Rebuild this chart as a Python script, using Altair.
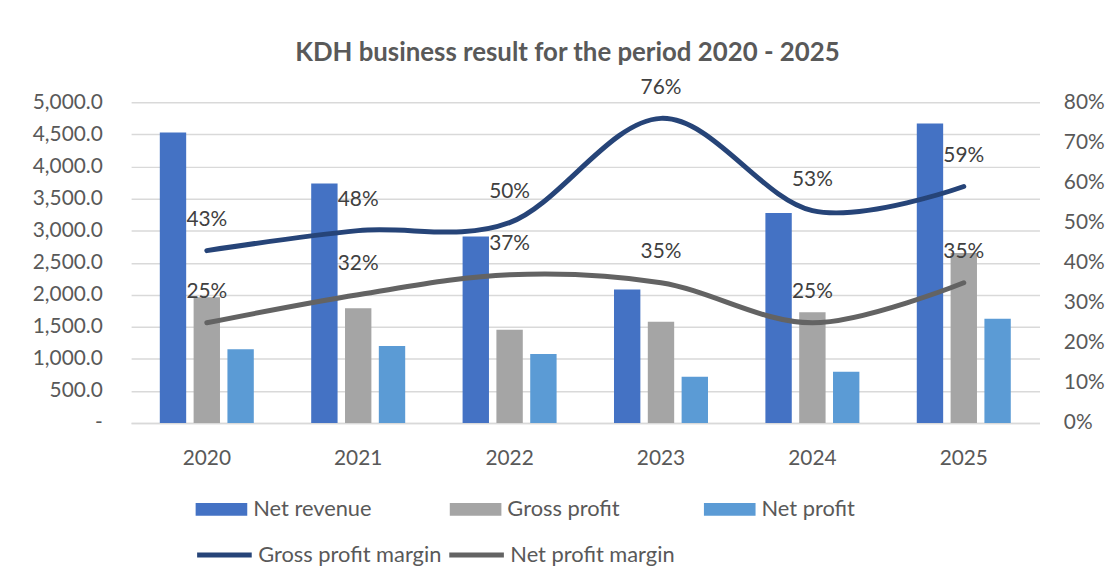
import altair as alt
import pandas as pd

years = ["2020", "2021", "2022", "2023", "2024", "2025"]
bar_series = ["Net revenue", "Gross profit", "Net profit"]
net_revenue = [4530, 3733, 2908, 2083, 3275, 4672]
gross_profit = [1960, 1790, 1454, 1578, 1728, 2650]
net_profit = [1150, 1202, 1078, 722, 800, 1624]
line_series = ["Gross profit margin", "Net profit margin"]
gross_margin = [0.43, 0.48, 0.50, 0.76, 0.53, 0.59]
net_margin = [0.25, 0.32, 0.37, 0.35, 0.25, 0.35]
left_ticks = [0, 500, 1000, 1500, 2000, 2500, 3000, 3500, 4000, 4500, 5000]
right_ticks = [0, 0.1, 0.2, 0.3, 0.4, 0.5, 0.6, 0.7, 0.8]

bar_colors = ["#4472C4", "#A5A5A5", "#5B9BD5"]
line_colors = ["#264478", "#636363"]
FONT = "Lato"
TXT = "#595959"
GRID = "#D9D9D9"

bar_rows = []
for s, vals in zip(bar_series, [net_revenue, gross_profit, net_profit]):
    for y, v in zip(years, vals):
        bar_rows.append({"year": y, "series": s, "value": v})
bar_df = pd.DataFrame(bar_rows)

line_rows = []
for s, vals in zip(line_series, [gross_margin, net_margin]):
    for y, v in zip(years, vals):
        line_rows.append({"year": y, "series": s, "value": v})
line_df = pd.DataFrame(line_rows)

x_enc = alt.X(
    "year:N",
    sort=years,
    scale=alt.Scale(paddingInner=0.33, paddingOuter=0.165),
    axis=alt.Axis(
        title=None, labelAngle=0, domain=True, domainColor=GRID, domainWidth=1.5,
        ticks=False, tickSize=0, labelPadding=36, labelBaseline="middle",
        labelFont=FONT, labelFontSize=21, labelColor=TXT,
    ),
)

bars = alt.Chart(bar_df).mark_bar().encode(
    x=x_enc,
    xOffset=alt.XOffset("series:N", sort=bar_series,
                        scale=alt.Scale(paddingInner=0.22, paddingOuter=0.11)),
    y=alt.Y(
        "value:Q",
        scale=alt.Scale(domain=[0, 5000], nice=False),
        axis=alt.Axis(
            title=None, orient="left", values=left_ticks,
            labelExpr="datum.value == 0 ? '-' : format(datum.value, ',.1f')",
            grid=True, gridColor=GRID, gridWidth=1.5, domain=False, ticks=False, tickSize=0,
            labelPadding=29, labelFont=FONT, labelFontSize=21, labelColor=TXT,
        ),
    ),
    fill=alt.Fill(
        "series:N", sort=bar_series,
        scale=alt.Scale(domain=bar_series, range=bar_colors),
        legend=alt.Legend(
            title=None, orient="none", legendX=78, legendY=397, direction="horizontal",
            columns=3, gridAlign="all", columnPadding=78, padding=0,
            symbolType="M-2,-0.5H2V0.5H-2Z", symbolSize=676, symbolStrokeWidth=0,
            labelFont=FONT, labelFontSize=22, labelColor=TXT, labelOffset=19,
            labelLimit=400,
        ),
    ),
)

lines = alt.Chart(line_df).mark_line(
    interpolate="cardinal", tension=0, strokeWidth=5, strokeCap="round"
).encode(
    x=alt.X("year:N", sort=years),
    y=alt.Y(
        "value:Q",
        scale=alt.Scale(domain=[0, 0.8], nice=False),
        axis=alt.Axis(
            title=None, orient="right", values=right_ticks, format=".0%",
            grid=False, domain=False, ticks=False, tickSize=0,
            labelPadding=24, labelFont=FONT, labelFontSize=21, labelColor=TXT,
        ),
    ),
    stroke=alt.Stroke(
        "series:N", sort=line_series,
        scale=alt.Scale(domain=line_series, range=line_colors),
        legend=alt.Legend(
            title=None, orient="none", legendX=64, legendY=426, direction="horizontal",
            columns=2, gridAlign="all", columnPadding=-3, padding=0,
            symbolType="stroke", symbolSize=3025, symbolStrokeWidth=5,
            labelFont=FONT, labelFontSize=22, labelColor=TXT, labelOffset=4,
            labelLimit=400,
        ),
    ),
)

labels = alt.Chart(line_df).mark_text(
    dy=-31, font=FONT, fontSize=21, color="#404040"
).encode(
    x=alt.X("year:N", sort=years),
    y=alt.Y("value:Q", scale=alt.Scale(domain=[0, 0.8], nice=False), axis=None),
    text=alt.Text("value:Q", format=".0%"),
)

chart = (
    alt.layer(bars, lines, labels)
    .resolve_scale(y="independent")
    .properties(
        width=915,
        height=323,
        autosize=alt.AutoSizeParams(type="none"),
        padding={"left": 124, "top": 93, "right": 67, "bottom": 143},
        title=alt.Title(
            "KDH business result for the period 2020 - 2025",
            font=FONT, fontSize=26, fontWeight="bold", color=TXT,
            anchor="middle", frame="group", offset=42, dy=52, dx=-18,
            baseline="alphabetic",
        ),
    )
    .configure_view(stroke=None)
)

chart.save("out.html", embed_options={"renderer": "svg", "actions": False})
